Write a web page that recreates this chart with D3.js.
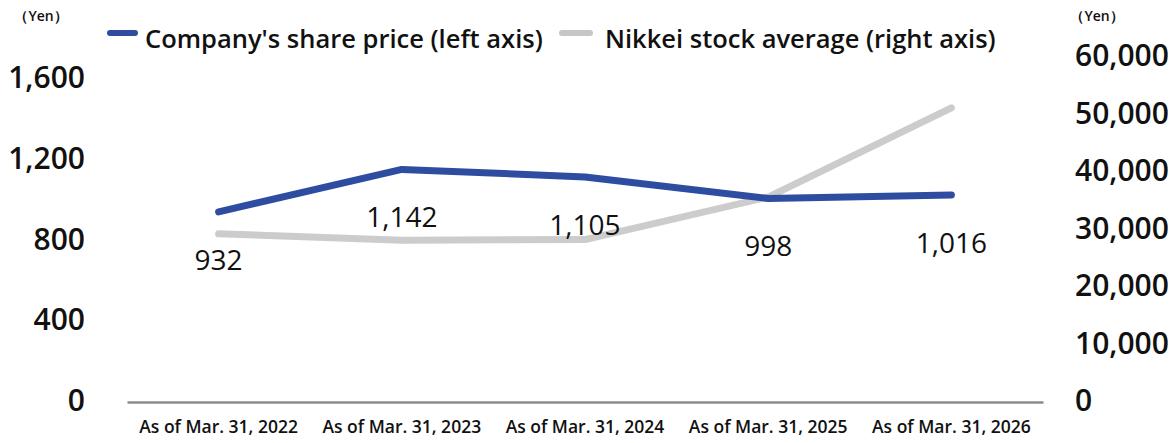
<!DOCTYPE html>
<html lang="en">
<head>
<meta charset="UTF-8">
<title>Share price vs Nikkei</title>
<script src="https://cdnjs.cloudflare.com/ajax/libs/d3/7.8.5/d3.min.js"></script>
<style>
	body { margin: 0; background: #fff; font-family: "Open Sans", "Noto Sans", sans-serif; }
	svg text { fill: #111; }
</style>
</head>
<body>
<div id="chart"></div>
<script>
	const categories = ["As of Mar. 31, 2022", "As of Mar. 31, 2023", "As of Mar. 31, 2024", "As of Mar. 31, 2025", "As of Mar. 31, 2026"];
	const sharePrice = [932, 1142, 1105, 998, 1016];
	const nikkei = [28900, 27800, 27900, 35300, 50800];
	const leftTicks = [0, 400, 800, 1200, 1600];
	const rightTicks = [0, 10000, 20000, 30000, 40000, 50000, 60000];
	const seriesNames = ["Company's share price (left axis)", "Nikkei stock average (right axis)"];

	const width = 1175, height = 443;
	const fmt = d3.format(",");

	const svg = d3.select("#chart").append("svg")
		.attr("width", width)
		.attr("height", height);

	const x = d3.scaleBand()
		.domain(categories)
		.range([127, 1043]);

	const yLeft = d3.scaleLinear().domain([0, 1600]).range([400, 77]);
	const yRight = d3.scaleLinear().domain([0, 60000]).range([400, 55]);

	const cx = d => x(d) + x.bandwidth() / 2;

	// left axis labels
	const leftAxis = svg.append("g")
		.attr("transform", "translate(85,1)")
		.call(d3.axisLeft(yLeft).tickValues(leftTicks).tickFormat(fmt).tickSize(0).tickPadding(0));
	leftAxis.select(".domain").remove();
	leftAxis.selectAll("text")
		.style("font-family", "'Open Sans', sans-serif")
		.style("font-size", "30px")
		.style("font-weight", 600)
		.attr("fill", "#111");

	// right axis labels
	const rightAxis = svg.append("g")
		.attr("transform", "translate(1075,1)")
		.call(d3.axisRight(yRight).tickValues(rightTicks).tickFormat(fmt).tickSize(0).tickPadding(0));
	rightAxis.select(".domain").remove();
	rightAxis.selectAll("text")
		.style("font-family", "'Open Sans', sans-serif")
		.style("font-size", "30px")
		.style("font-weight", 600)
		.attr("fill", "#111");

	// unit labels
	svg.append("text").attr("x", 41).attr("y", 21).attr("text-anchor", "middle")
		.style("font-size", "14px").style("font-weight", 600).text("（Yen）");
	svg.append("text").attr("x", 1097).attr("y", 21).attr("text-anchor", "middle")
		.style("font-size", "14px").style("font-weight", 600).text("（Yen）");

	// x axis
	const xAxis = svg.append("g")
		.attr("transform", "translate(0,402)")
		.call(d3.axisBottom(x).tickSize(0).tickPadding(19));
	xAxis.select(".domain").attr("stroke", "#8c8c8c").attr("stroke-width", 2.5);
	xAxis.selectAll("text")
		.style("font-family", "'Open Sans', sans-serif")
		.style("font-size", "17.5px")
		.style("font-weight", 600)
		.attr("fill", "#111");

	// nikkei line
	svg.append("path")
		.datum(nikkei)
		.attr("fill", "none")
		.attr("stroke", "#cccccc")
		.attr("stroke-width", 7)
		.attr("stroke-linecap", "round")
		.attr("stroke-linejoin", "round")
		.attr("d", d3.line().x((d, i) => cx(categories[i])).y(d => yRight(d)));

	// share price line
	svg.append("path")
		.datum(sharePrice)
		.attr("fill", "none")
		.attr("stroke", "#2e4da1")
		.attr("stroke-width", 7)
		.attr("stroke-linecap", "round")
		.attr("stroke-linejoin", "round")
		.attr("d", d3.line().x((d, i) => cx(categories[i])).y(d => yLeft(d)));

	// data labels
	svg.selectAll(".val")
		.data(sharePrice)
		.enter().append("text")
		.attr("class", "val")
		.attr("x", (d, i) => cx(categories[i]))
		.attr("y", d => yLeft(d) + 48)
		.attr("dy", "0.35em")
		.attr("text-anchor", "middle")
		.style("font-size", "28px")
		.text(d => fmt(d));

	// legend
	const legend = [
		{ name: seriesNames[0], color: "#2e4da1", x1: 110, x2: 135, tx: 145 },
		{ name: seriesNames[1], color: "#c6c6c6", x1: 562, x2: 590, tx: 605 }
	];
	legend.forEach(l => {
		svg.append("line")
			.attr("x1", l.x1).attr("x2", l.x2).attr("y1", 33).attr("y2", 33)
			.attr("stroke", l.color).attr("stroke-width", 6).attr("stroke-linecap", "round");
		svg.append("text")
			.attr("x", l.tx).attr("y", 39).attr("dy", "0.35em")
			.style("font-size", "25.5px").style("font-weight", 600)
			.text(l.name);
	});
</script>
</body>
</html>
